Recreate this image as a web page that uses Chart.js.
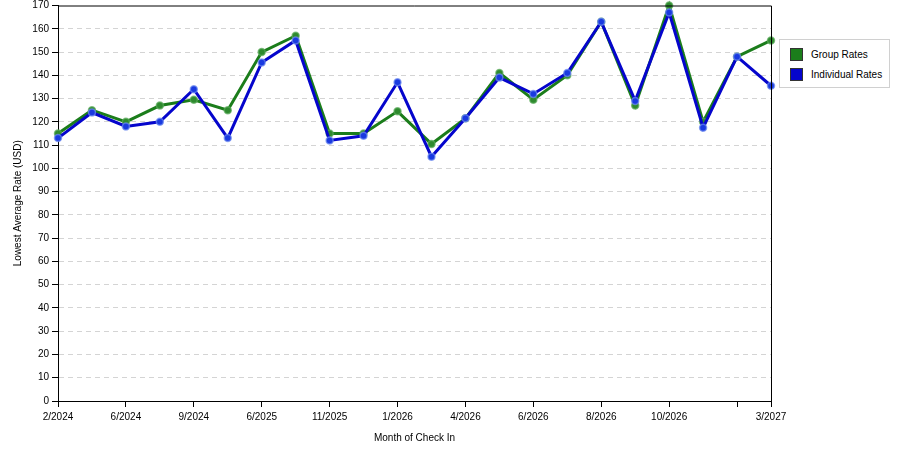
<!DOCTYPE html>
<html>
<head>
<meta charset="utf-8">
<script src="https://cdn.jsdelivr.net/npm/chart.js@4/dist/chart.umd.min.js"></script>
<style>
    body { margin: 0; background: #ffffff; }
    #wrap { position: relative; width: 900px; height: 450px; }
    #legend {
        position: absolute; left: 779px; top: 39px; width: 109px; height: 47px;
        border: 1px solid #d0d0d0; background: #fff;
        font-family: "Liberation Sans", Arial, sans-serif; font-size: 10px; color: #000;
    }
    .item { position: absolute; left: 10px; height: 13px; line-height: 13px; }
    .sw { display: inline-block; width: 11px; height: 11px; border: 1px solid #333; vertical-align: top; margin-right: 8px; }
</style>
</head>
<body>
<div id="wrap">
    <canvas id="rateChart" width="900" height="450"></canvas>
    <div id="legend"></div>
</div>
<script>
// Monate (nur jede zweite Stelle hat eine Beschriftung)
const monthLabels = ['2/2024', '', '6/2024', '', '9/2024', '', '6/2025', '', '11/2025', '', '1/2026', '',
    '4/2026', '', '6/2026', '', '8/2026', '', '10/2026', '', '', '3/2027'];
const tickAt = [0, 2, 4, 6, 8, 10, 12, 14, 16, 18, 20, 21];

const groupRates = [115, 125, 120, 127, 129.5, 125, 150, 157, 115, 115, 124.5, 110.5,
    121.5, 141, 129.5, 140, 163, 127, 170, 120, 148, 155];
const individualRates = [113, 124, 118, 120, 134, 113, 145.5, 155, 112, 114, 137, 105,
    121.5, 139, 132, 141, 163, 129, 167, 117.5, 148, 135.5];

const yMin = 0, yMax = 170, yStep = 10;

const frame = {
    id: 'frame',
    afterDraw(chart) {
        const { ctx, chartArea } = chart;
        ctx.save();
        ctx.strokeStyle = '#000';
        ctx.lineWidth = 1;
        ctx.beginPath();
        ctx.moveTo(chartArea.left, chartArea.top + 0.5);
        ctx.lineTo(chartArea.right + 0.5, chartArea.top + 0.5);
        ctx.lineTo(chartArea.right + 0.5, chartArea.bottom);
        ctx.stroke();
        ctx.restore();
    }
};

const font = { family: '"Liberation Sans", Arial, sans-serif', size: 10 };

const chart = new Chart(document.getElementById('rateChart'), {
    type: 'line',
    data: {
        labels: monthLabels,
        datasets: [
            {
                label: 'Group Rates',
                data: groupRates,
                borderColor: '#1b7d1b',
                backgroundColor: '#1b7d1b',
                pointBackgroundColor: '#2e8a2e',
                pointBorderColor: 'rgba(90,170,90,0.7)',
                borderWidth: 3,
                pointRadius: 3.5,
                pointBorderWidth: 1.5,
                tension: 0,
                clip: false,
                order: 1
            },
            {
                label: 'Individual Rates',
                data: individualRates,
                borderColor: '#0505cc',
                backgroundColor: '#0505cc',
                pointBackgroundColor: '#1a3ae0',
                pointBorderColor: 'rgba(110,140,240,0.7)',
                borderWidth: 3,
                pointRadius: 3.5,
                pointBorderWidth: 1.5,
                tension: 0,
                clip: false,
                order: 0
            }
        ]
    },
    options: {
        responsive: false,
        animation: false,
        layout: { padding: { top: 0, right: 129, bottom: 0, left: 0 } },
        plugins: {
            legend: { display: false },
            tooltip: { enabled: false }
        },
        scales: {
            x: {
                offset: false,
                grid: {
                    drawOnChartArea: false,
                    drawTicks: true,
                    tickLength: 6,
                    tickColor: (c) => tickAt.includes(c.index) ? '#000' : 'rgba(0,0,0,0)'
                },
                border: { color: '#000', width: 1 },
                ticks: {
                    autoSkip: false, maxRotation: 0, minRotation: 0,
                    color: '#000', font: font, padding: 4,
                    callback: (v, i) => monthLabels[i]
                },
                title: { display: true, text: 'Month of Check In', color: '#000', font: font, padding: { top: 6, bottom: 6 } },
                afterFit: (s) => { s.height = 49; }
            },
            y: {
                min: yMin, max: yMax,
                grid: {
                    color: (c) => (c.tick.value === yMin || c.tick.value === yMax) ? 'rgba(0,0,0,0)' : '#d4d4d4',
                    tickColor: '#000',
                    tickLength: 6
                },
                border: { color: '#000', width: 1, dash: [5, 4] },
                ticks: { stepSize: yStep, color: '#000', font: font, padding: 3 },
                title: { display: true, text: 'Lowest Average Rate (USD)', color: '#000', font: font, padding: { top: 12, bottom: 4 } },
                afterFit: (s) => { s.width = 58; s.paddingTop = 5; }
            }
        }
    },
    plugins: [frame]
});

// Legende als HTML
const legend = document.getElementById('legend');
chart.data.datasets.forEach((ds, i) => {
    const it = document.createElement('div');
    it.className = 'item';
    it.style.top = (8 + i * 20) + 'px';
    it.innerHTML = '<span class="sw" style="background:' + ds.borderColor + '"></span>' + ds.label;
    legend.appendChild(it);
});
</script>
</body>
</html>
